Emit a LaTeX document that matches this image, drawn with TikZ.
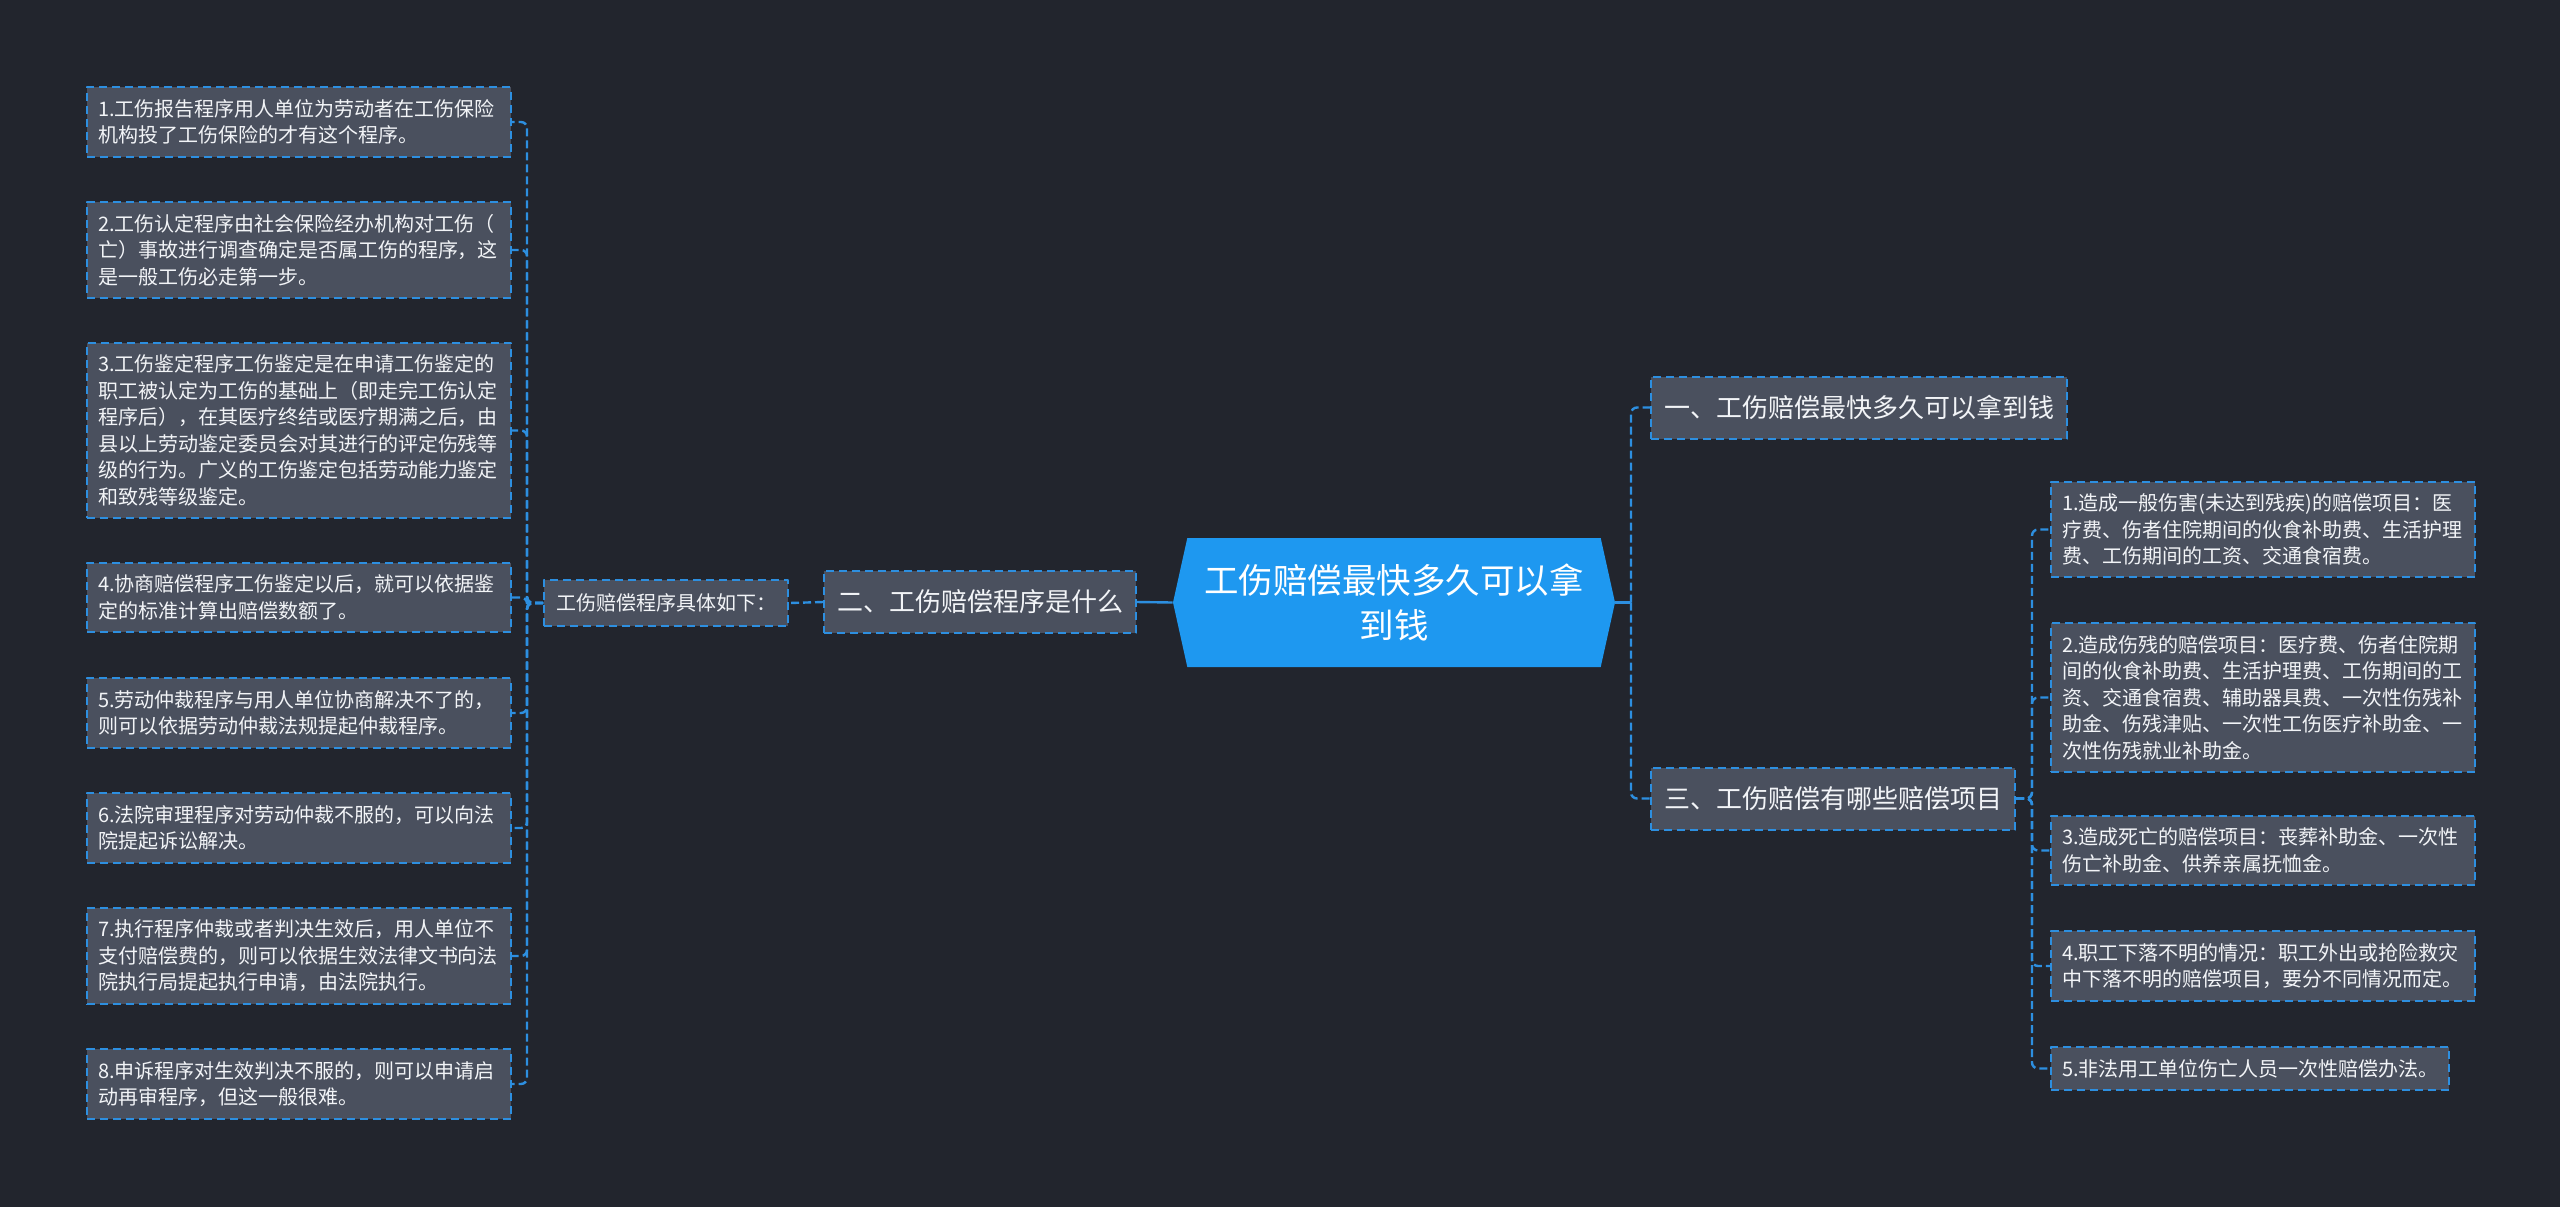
\documentclass[tikz,border=0pt]{standalone}
\usepackage{fontspec}
\setmainfont{Noto Sans CJK SC}
\usetikzlibrary{shapes.symbols}
\definecolor{bgdark}{HTML}{22252D}
\definecolor{boxgrey}{HTML}{4A505E}
\definecolor{lineblue}{HTML}{2D8FE0}
\definecolor{rootblue}{HTML}{1E98F0}
\definecolor{txtwhite}{HTML}{F2F4F7}

\begin{document}
\begin{tikzpicture}[x=0.5pt, y=-0.5pt, line join=round,
    box/.style={draw=lineblue, line width=1pt, dash pattern=on 4pt off 2.5pt, fill=boxgrey, text=txtwhite},
    leaf/.style={box, anchor=west, text width=201pt, align=left, inner xsep=5.5pt, inner ysep=6pt, font=\fontsize{10pt}{13.25pt}\selectfont},
    topic/.style={box, minimum height=31pt, inner xsep=6.5pt, inner ysep=0pt, font=\fontsize{13pt}{16pt}\selectfont},
    sub/.style={box, minimum height=23pt, inner xsep=6pt, inner ysep=0pt, font=\fontsize{10pt}{12pt}\selectfont},
    root/.style={signal, signal to=west and east, signal pointer angle=155, fill=rootblue, text=white, minimum width=221pt, minimum height=64.5pt, inner sep=0pt, align=center, font=\fontsize{17.25pt}{22.75pt}\selectfont},
    link/.style={draw=lineblue, line width=1.2pt, dash pattern=on 4pt off 2pt, rounded corners=3pt},
    stem/.style={draw=lineblue, line width=1.2pt}]

    \useasboundingbox (0,0) rectangle (2560,1207);
    \fill[bgdark] (0,0) rectangle (2560,1207);

    % centre
    \node[root] (root) at (1394,602.5) {工伤赔偿最快多久可以拿\\到钱};

    % left branch
    \node[topic, anchor=east] (B2) at (1137,602) {二、工伤赔偿程序是什么};
    \node[sub, anchor=east] (S) at (789,603) {工伤赔偿程序具体如下：};

    \node[leaf] (L1) at (86,122) {1.工伤报告程序用人单位为劳动者在工伤保险\\机构投了工伤保险的才有这个程序。};
    \node[leaf] (L2) at (86,250) {2.工伤认定程序由社会保险经办机构对工伤（\\亡）事故进行调查确定是否属工伤的程序，这\\是一般工伤必走第一步。};
    \node[leaf] (L3) at (86,430.5) {3.工伤鉴定程序工伤鉴定是在申请工伤鉴定的\\职工被认定为工伤的基础上（即走完工伤认定\\程序后），在其医疗终结或医疗期满之后，由\\县以上劳动鉴定委员会对其进行的评定伤残等\\级的行为。广义的工伤鉴定包括劳动能力鉴定\\和致残等级鉴定。};
    \node[leaf] (L4) at (86,597.5) {4.协商赔偿程序工伤鉴定以后，就可以依据鉴\\定的标准计算出赔偿数额了。};
    \node[leaf] (L5) at (86,713) {5.劳动仲裁程序与用人单位协商解决不了的，\\则可以依据劳动仲裁法规提起仲裁程序。};
    \node[leaf] (L6) at (86,828) {6.法院审理程序对劳动仲裁不服的，可以向法\\院提起诉讼解决。};
    \node[leaf] (L7) at (86,956) {7.执行程序仲裁或者判决生效后，用人单位不\\支付赔偿费的，则可以依据生效法律文书向法\\院执行局提起执行申请，由法院执行。};
    \node[leaf] (L8) at (86,1084) {8.申诉程序对生效判决不服的，则可以申请启\\动再审程序，但这一般很难。};

    % right branch
    \node[topic, anchor=west] (B1) at (1650,407.5) {一、工伤赔偿最快多久可以拿到钱};
    \node[topic, anchor=west] (B3) at (1650,798.5) {三、工伤赔偿有哪些赔偿项目};

    \node[leaf] (R1) at (2050,529.5) {1.造成一般伤害(未达到残疾)的赔偿项目：医\\疗费、伤者住院期间的伙食补助费、生活护理\\费、工伤期间的工资、交通食宿费。};
    \node[leaf] (R2) at (2050,697.5) {2.造成伤残的赔偿项目：医疗费、伤者住院期\\间的伙食补助费、生活护理费、工伤期间的工\\资、交通食宿费、辅助器具费、一次性伤残补\\助金、伤残津贴、一次性工伤医疗补助金、一\\次性伤残就业补助金。};
    \node[leaf] (R3) at (2050,850.5) {3.造成死亡的赔偿项目：丧葬补助金、一次性\\伤亡补助金、供养亲属抚恤金。};
    \node[leaf] (R4) at (2050,966) {4.职工下落不明的情况：职工外出或抢险救灾\\中下落不明的赔偿项目，要分不同情况而定。};
    \node[leaf, text width=188pt] (R5) at (2050,1068.5) {5.非法用工单位伤亡人员一次性赔偿办法。};

    % connectors
    \coordinate (rj) at (1631,602.5);
    \draw[stem] (root.east) -- (rj);
    \draw[link] (rj) |- (B1.west);
    \draw[link] (rj) |- (B3.west);
    \draw[stem] (root.west) -- (B2.east);
    \draw[link] (B2.west) -- (S.east);
    \foreach \k in {1,...,8}
        \draw[link] (S.west) -- ++(-16,0) |- (L\k.east);
    \foreach \k in {1,...,5}
        \draw[link] (B3.east) -- ++(16,0) |- (R\k.west);
\end{tikzpicture}
\end{document}
